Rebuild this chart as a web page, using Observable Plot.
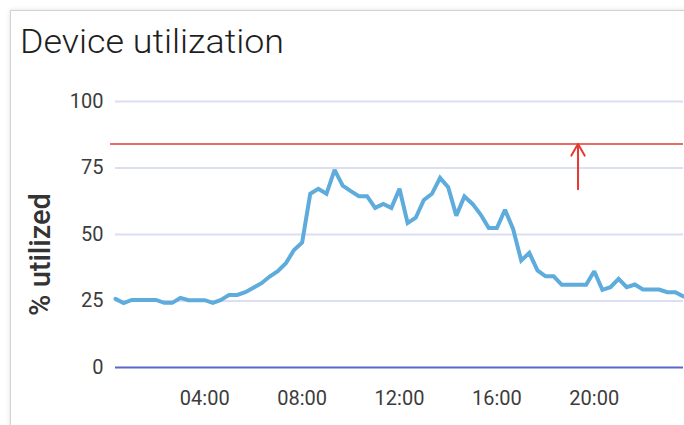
<!DOCTYPE html>
<html>
<head>
<meta charset="utf-8">
<script src="https://cdn.jsdelivr.net/npm/d3@7"></script>
<script src="https://cdn.jsdelivr.net/npm/@observablehq/plot@0.6"></script>
<style>
  html, body { margin: 0; padding: 0; background: #fff; width: 684px; height: 425px; overflow: hidden; }
  #card { position: absolute; left: 10px; top: 10px; width: 720px; height: 460px; border: 1px solid #d2d2d2; box-shadow: 0 0 5px rgba(0,0,0,0.12); background: #fff; }
  #title { position: absolute; left: 20px; top: 24px; font-family: Roboto, "Liberation Sans", sans-serif; font-weight: 300; font-size: 34px; line-height: 1; color: #1e1e1e; white-space: nowrap; transform-origin: 0 0; display: inline-block; }
  #chart { position: absolute; left: 0; top: 75px; }
</style>
</head>
<body>
<div id="card"></div>
<div id="title">Device utilization</div>
<div id="chart"></div>
<script>
// ---- data ----
const title = "Device utilization";
const yLabel = "% utilized";
const startTime = "00:20";          // first sample
const stepMinutes = 20;             // sample interval
const utilization = [25.8, 24.2, 25.4, 25.4, 25.4, 25.4, 24.3, 24.3, 26.2, 25.3,
                     25.3, 25.3, 24.3, 25.4, 27.3, 27.3, 28.3, 30.0, 31.7, 34.2,
                     36.2, 39.2, 44.2, 47.0, 65.3, 67.2, 65.3, 74.3, 68.4, 66.3,
                     64.4, 64.4, 60.0, 61.5, 60.0, 67.2, 54.3, 56.3, 63.0, 65.3,
                     71.3, 67.8, 57.1, 64.3, 61.5, 57.5, 52.4, 52.4, 59.3, 52.1,
                     40.2, 43.1, 36.5, 34.3, 34.3, 31.1, 31.1, 31.1, 31.1, 36.2,
                     29.2, 30.2, 33.3, 30.2, 31.2, 29.3, 29.3, 29.3, 28.3, 28.3,
                     26.7];
const yTicks = [0, 25, 50, 75, 100];
const xTickLabels = ["04:00", "08:00", "12:00", "16:00", "20:00"];
const threshold = 84;
const arrowTime = "19:20";
const arrowFrom = 67;

// ---- build ----
const toDate = s => { const [h, m] = s.split(":").map(Number); return new Date(Date.UTC(2024, 0, 1, h, m)); };
const t0 = toDate(startTime);
const data = utilization.map((v, i) => ({time: new Date(+t0 + i * stepMinutes * 60000), value: v}));
const xTicks = xTickLabels.map(toDate);

const chart = Plot.plot({
  width: 684,
  height: 350,
  marginLeft: 115,
  marginRight: 1,
  marginTop: 26,
  marginBottom: 58,
  style: {fontFamily: "Roboto, sans-serif", fontSize: "20px", color: "#3c3c3c", background: "transparent", overflow: "visible"},
  x: {type: "utc", domain: [data[0].time, data[data.length - 1].time]},
  y: {domain: [0, 100]},
  marks: [
    Plot.gridY(yTicks.filter(d => d > 0), {stroke: "#dcdff2", strokeOpacity: 1, strokeWidth: 2}),
    Plot.axisY(yTicks, {tickSize: 0, tickPadding: 12, label: null, fontSize: 20, fill: "#3c3c3c"}),
    Plot.axisX(xTicks, {tickSize: 0, tickPadding: 23, label: null, tickFormat: d3.utcFormat("%H:%M"), fontSize: 20, fill: "#3c3c3c"}),
    Plot.ruleY([0], {stroke: "#5b68c9", strokeWidth: 2}),
    Plot.ruleY([threshold], {stroke: "#e63a30", strokeWidth: 1.6, insetLeft: -5}),
    Plot.line(data, {x: "time", y: "value", stroke: "#5eacdc", strokeWidth: 4, strokeLinejoin: "miter", strokeMiterlimit: 2}),
    Plot.arrow([{t: toDate(arrowTime), y1: arrowFrom, y2: threshold}], {x: "t", y1: "y1", y2: "y2", stroke: "#e63a30", strokeWidth: 2, headLength: 10}),
    Plot.text([yLabel], {text: d => d, frameAnchor: "left", textAnchor: "middle", lineAnchor: "middle", dx: -75, dy: 20, rotate: -90, fontSize: 29, fontWeight: 500, fill: "#333"})
  ]
});
document.getElementById("chart").appendChild(chart);

const titleEl = document.getElementById("title");
titleEl.textContent = title;
function fitTitle() {
  titleEl.style.transform = "none";
  const w = titleEl.getBoundingClientRect().width;
  if (w > 0) titleEl.style.transform = `scaleX(${264 / w})`;
}
fitTitle();
if (document.fonts) document.fonts.ready.then(fitTitle);
</script>
</body>
</html>
